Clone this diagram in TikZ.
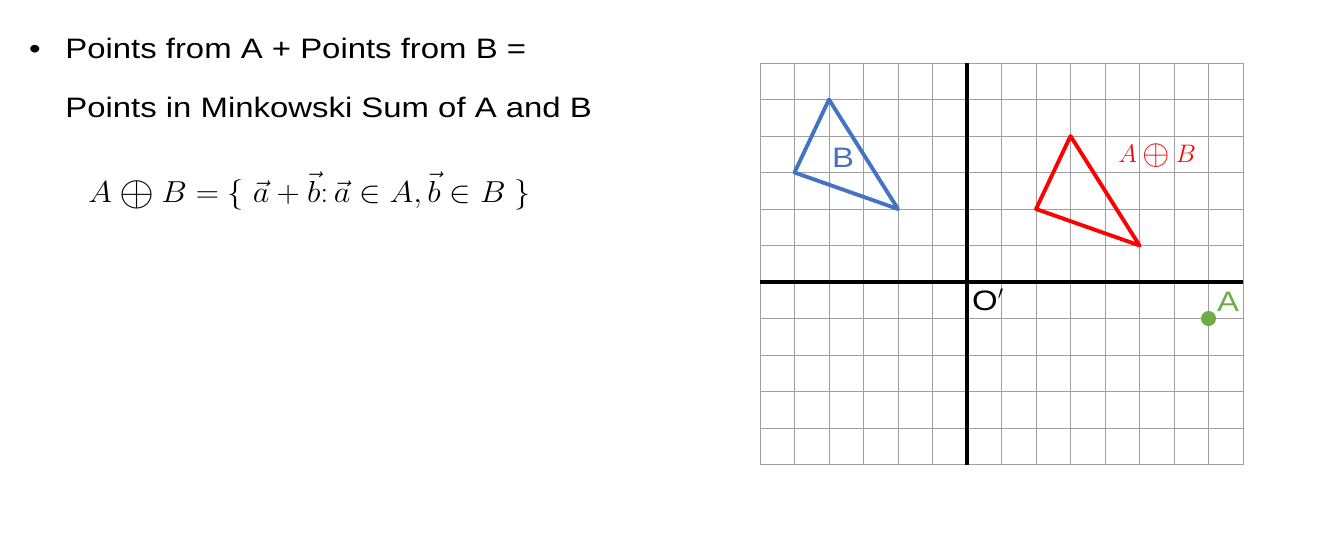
\documentclass[tikz,border=0pt]{standalone}
\usepackage{fontspec}
\setmainfont{Liberation Sans}[FakeStretch=1.17]
\usetikzlibrary{positioning}

\definecolor{bshape}{HTML}{4472C4}
\definecolor{apoint}{HTML}{70AD47}

\newcommand{\msum}{\mathbin{\vcenter{\hbox{\scalebox{1.4}{$\oplus$}}}}}

\begin{document}
\begin{tikzpicture}[
    slide/.style={font=\fontsize{16}{19}\selectfont, inner sep=0pt},
    formula/.style={font=\fontsize{17}{20}\selectfont, inner sep=0pt},
    gridline/.style={draw=gray!75, line width=0.5pt},
    axis/.style={draw=black, line width=2pt},
    tri/.style={line width=2.2pt, line join=round},
    lbl/.style={font=\fontsize{16}{19}\selectfont, inner sep=0pt}
]
\useasboundingbox (0,0) rectangle (26.36,-10.7);

% Text on the left
\node[slide, anchor=base] (dot) at (0.70,-1.16) {•};
\node[slide, anchor=base west] (line1) at (1.30,-1.16) {Points from A + Points from B =};
\node[slide, anchor=base west] (line2) at (1.30,-2.34) {Points in Minkowski Sum of A and B};
\node[formula, anchor=base west] (eq) at (1.76,-4.04)
    {\scalebox{1.06}[1]{$A \msum B = \{\; \vec{a} + \vec{b}\colon \vec{a} \in A, \vec{b} \in B \;\}$}};

% Grid and axes
\begin{scope}[shift={(19.34,-5.64)}, x=0.69cm, y=0.73cm]
\foreach \i in {-6,...,8}
  \draw[gridline] (\i,-5) -- (\i,6);
\foreach \j in {-5,...,6}
  \draw[gridline] (-6,\j) -- (8,\j);
\draw[axis] (-6,0) -- (8,0);
\draw[axis] (0,-5) -- (0,6);

% Shape B
\coordinate (b1) at (-4,5);
\coordinate (b2) at (-5,3);
\coordinate (b3) at (-2,2);
\draw[tri, bshape] (b1) -- (b2) -- (b3) -- cycle;
\node[lbl, text=bshape] (labB) at (-3.59,3.40) {B};

% Minkowski sum
\coordinate (s1) at (3,4);
\coordinate (s2) at (2,2);
\coordinate (s3) at (5,1);
\draw[tri, red] (s1) -- (s2) -- (s3) -- cycle;
\node[formula, font=\fontsize{15.5}{19}\selectfont, text=red] (labSum) at (5.51,3.45) {$A \msum B$};

% Point A and origin
\fill[apoint] (7,-1) circle (0.15cm);
\node[lbl, text=apoint] (labA) at (7.57,-0.55) {A};
\node[lbl] (labO) at (0.61,-0.49) {O$'$};
\end{scope}

\end{tikzpicture}
\end{document}
